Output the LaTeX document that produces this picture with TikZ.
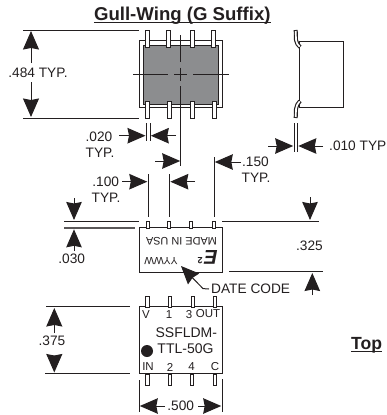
\documentclass[tikz,border=0pt]{standalone}
\usepackage{fontspec}
\setmainfont{Liberation Sans}
\usetikzlibrary{arrows.meta}
\definecolor{ink}{HTML}{231F20}
\definecolor{pkg}{HTML}{8C8D8F}
\tikzset{
  x=1pt,y=-1pt,
  dimline/.style={draw=ink,line width=1pt},
  dimarrow/.style={draw=ink,line width=1pt,-{Stealth[length=18.5pt,width=16pt,inset=1.5pt]}},
  dimsmall/.style={draw=ink,line width=1pt,-{Stealth[length=18pt,width=15.5pt,inset=1.5pt]}},
  lbl/.style={text=ink,font=\fontsize{13.7}{15}\selectfont,inner sep=0pt},
  pinlbl/.style={text=ink,font=\fontsize{11.5}{13}\selectfont,inner sep=0pt},
  ttl/.style={text=ink,font=\bfseries\fontsize{18.6}{20}\selectfont,inner sep=0pt},
  body/.style={draw=ink,line width=1pt,fill=white},
  lead/.style={draw=ink,line width=1pt,fill=white},
  cline/.style={draw=ink,line width=0.9pt},
}
\newcommand{\leadbox}[3]{\draw[lead] (#1-1.8,#2) rectangle (#1+1.8,#3);}
\begin{document}
\begin{tikzpicture}
\useasboundingbox (0,0) rectangle (386,415);
% title
\node[ttl,anchor=base] (title) at (182.3,20) {Gull-Wing (G Suffix)};
\draw[draw=ink,line width=1.1pt] ([yshift=-2.5pt]title.base west) -- ([yshift=-2.5pt]title.base east);
% top outline view
\node[body,minimum width=83pt,minimum height=67pt,inner sep=0pt] (outline) at (180.8,74.3) {};
\node[draw=ink,line width=1pt,fill=pkg,minimum width=75pt,minimum height=58.5pt,inner sep=0pt] (gray) at (180.8,75) {};
\foreach \x in {147.7,168.3,192.3,213.7}{\leadbox{\x}{30}{47.5}}
\foreach \x in {147.7,169.3,192.7,214.3}{\leadbox{\x}{101}{118}}
\coordinate (vt) at (180.7,35); \coordinate (vb) at (180.7,166);
\coordinate (ha) at (133,74.3); \coordinate (hb) at (229,74.3);
\draw[cline] (ha) -- (168,74.3) (174.3,74.3) -- (186.7,74.3) (193.3,74.3) -- (hb);
\draw[cline] (vt) -- (180.7,62) (180.7,67.7) -- (180.7,81) (180.7,86) -- (vb);
% .484
\coordinate (a1) at (23,30); \coordinate (a2) at (139,30);
\coordinate (b1) at (23,118); \coordinate (b2) at (139,118);
\draw[dimline] (a1) -- (a2) (b1) -- (b2);
\node[lbl] (d484) at (38,73) {.484 TYP.};
\coordinate (t484a) at (31,63); \coordinate (t484b) at (31,82);
\draw[dimarrow] (t484a) -- (31,31);
\draw[dimarrow] (t484b) -- (31,117);
% .020
\draw[dimline] (146.3,123) -- (146.3,141) (150,123) -- (150,141);
\node[lbl] (d020) at (99,136.7) {.020};
\node[lbl] (t020) at (100,152.7) {TYP.};
\coordinate (c1) at (119,135.7); \coordinate (c2) at (176,135.7);
\draw[dimsmall] (c1) -- (145.5,135.7);
\draw[dimsmall] (c2) -- (150.8,135.7);
% .150
\coordinate (e1) at (155,161); \coordinate (e2) at (241,162);
\draw[dimsmall] (e1) -- (180.2,161);
\draw[dimline] (214,157) -- (214,217);
\draw[dimsmall] (e2) -- (214.8,162);
\node[lbl] (d150) at (255.5,162) {.150};
\node[lbl] (t150) at (256,178) {TYP.};
% side view
\node[body,minimum width=43.7pt,minimum height=65.3pt,inner sep=0pt] (side) at (321.8,74.4) {};
\draw[draw=ink,line width=4pt] (295.7,30) -- (296,40) .. controls (296.2,43) and (298,45) .. (300,47);
\draw[draw=white,line width=1.7pt,shorten >=0.5pt,shorten <=1pt] (295.7,30) -- (296,40) .. controls (296.2,43) and (298,45) .. (300,47);
\draw[draw=ink,line width=4pt] (295.7,118) -- (296,109) .. controls (296.2,106) and (298,103) .. (300,101);
\draw[draw=white,line width=1.7pt,shorten >=0.5pt,shorten <=1pt] (295.7,118) -- (296,109) .. controls (296.2,106) and (298,103) .. (300,101);
% .010
\draw[dimline] (294,123) -- (294,152) (297.5,123) -- (297.5,152);
\coordinate (f1) at (268,146); \coordinate (f2) at (323,146);
\draw[dimsmall] (f1) -- (293.2,146);
\draw[dimsmall] (f2) -- (298.3,146);
\node[lbl,anchor=west] (d010) at (329,146) {.010 TYP};
% .100
\draw[dimline] (148.3,174) -- (148.3,217) (169,174) -- (169,217);
\coordinate (g1) at (122,181.7); \coordinate (g2) at (195,181.7);
\draw[dimsmall] (g1) -- (147.3,181.7);
\draw[dimsmall] (g2) -- (170.3,181.7);
\node[lbl] (d100) at (105.7,181.7) {.100};
\node[lbl] (t100) at (106,197.7) {TYP.};
% marking view
\node[body,minimum width=83pt,minimum height=44.5pt,inner sep=0pt] (mark) at (181,250) {};
\foreach \x in {148,169,191,214}{\leadbox{\x}{221.5}{228}}
\node[pinlbl,rotate=180,font=\fontsize{10.9}{12}\selectfont] (made) at (181.5,241.7) {MADE IN USA};
\node[pinlbl,rotate=180,font=\fontsize{10.3}{12}\selectfont] (yyww) at (161,260.7) {YYWW};
\node[rotate=180,text=ink,inner sep=0pt,font=\bfseries\itshape\fontsize{20}{20}\selectfont] (logo) at (211,257.5) {E};
\node[rotate=180,text=ink,inner sep=0pt,font=\bfseries\fontsize{9}{9}\selectfont] (logotwo) at (200,261) {2};
% .030
\draw[dimline] (64,221) -- (139,221);
\draw[draw=ink!75,line width=1.4pt] (64,227.8) -- (134.7,227.8);
\coordinate (h1) at (74,198); \coordinate (h2) at (74,251);
\draw[dimsmall] (h1) -- (74,220);
\draw[dimsmall] (h2) -- (74,229.3);
\node[lbl] (d030) at (71.7,259) {.030};
% .325
\draw[dimline] (222,221) -- (319,221) (229,271.7) -- (322.7,271.7);
\coordinate (i1) at (310,197); \coordinate (i2) at (312.3,295);
\draw[dimsmall] (i1) -- (310,220);
\draw[dimsmall] (i2) -- (312.3,273);
\node[lbl] (d325) at (309.5,246) {.325};
% date code
\node[lbl,anchor=west] (date) at (211,289) {DATE CODE};
\coordinate (tip) at (181,266);
\draw[dimsmall] ([xshift=-2pt]date.west) -- (203,288.6) -- (tip);
% top view
\node[body,minimum width=83pt,minimum height=66.5pt,inner sep=0pt] (top) at (180.5,340) {};
\foreach \x in {147.3,170,193,215}{\leadbox{\x}{296.5}{307}}
\foreach \x in {147.5,170,192,215}{\leadbox{\x}{374}{385}}
\node[pinlbl] (pV) at (146,314.5) {V};
\node[pinlbl] (p1) at (169,314.5) {1};
\node[pinlbl] (p3) at (189,314.5) {3};
\node[pinlbl] (pO) at (208,314) {OUT};
\node[pinlbl] (pI) at (148,367) {IN};
\node[pinlbl] (p2) at (170,367) {2};
\node[pinlbl] (p4) at (191.5,367) {4};
\node[pinlbl] (pC) at (215,367) {C};
\node[lbl,font=\fontsize{14}{15}\selectfont] (m1) at (186.3,333) {SSFLDM-};
\node[lbl,font=\fontsize{14}{15}\selectfont] (m2) at (185.5,349) {TTL-50G};
\node[circle,fill=ink,minimum size=12pt,inner sep=0pt] (dot) at (147,351) {};
% .375
\draw[dimline] (46,306.8) -- (130,306.8) (45,373.7) -- (130,373.7);
\node[lbl] (d375) at (52,340.7) {.375};
\coordinate (j1) at (54.3,333); \coordinate (j2) at (54.3,356.7);
\draw[dimarrow] (j1) -- (54.3,308);
\draw[dimarrow] (j2) -- (54.3,372.5);
% .500
\draw[dimline] (139,380) -- (139,412) (222,379) -- (222,412);
\node[lbl] (d500) at (180.7,406) {.500};
\coordinate (k1) at (165,406); \coordinate (k2) at (198,406);
\draw[dimsmall] (k1) -- (139.8,406);
\draw[dimsmall] (k2) -- (221.2,406);
% top
\node[ttl,anchor=base west,font=\bfseries\fontsize{17.6}{20}\selectfont] (toplbl) at (351,349) {Top};
\draw[draw=ink,line width=1.1pt] ([yshift=-2.4pt]toplbl.base west) -- ([yshift=-2.4pt]toplbl.base east);
\end{tikzpicture}
\end{document}
